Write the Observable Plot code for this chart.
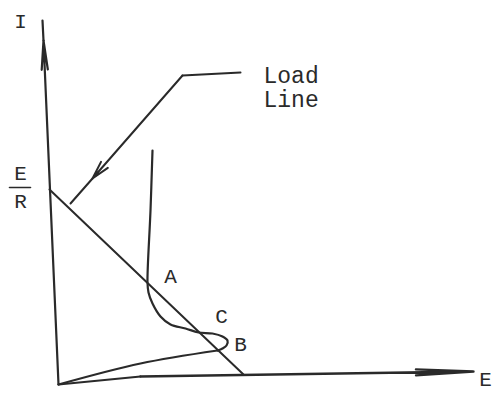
<!DOCTYPE html>
<html>
<head>
<meta charset="utf-8">
<script src="https://cdn.jsdelivr.net/npm/d3@7"></script>
<script src="https://cdn.jsdelivr.net/npm/@observablehq/plot@0.6"></script>
<style>
  html, body { margin: 0; padding: 0; background: #fff; }
  #chart { width: 497px; height: 393px; overflow: hidden; }
</style>
</head>
<body>
<div id="chart"></div>
<script>
// Device characteristic (E vs I), arbitrary units, origin at (0,0)
// upper branch (top, through A, looping round at B)
const curveE = [94, 92, 89, 90, 94, 102, 112, 127, 140, 154, 164, 169, 168, 164, 159];
const curveI = [234, 174, 102, 92, 81, 68, 60, 56, 52, 51, 48, 44, 39, 36, 34];
// lower branch (from B back to the origin)
const lowerE = [159, 82, 0];
const lowerI = [34, 21, 0];

// Load line: from E/R on the I axis to E on the E axis
const loadE = [-9, 185];
const loadI = [195, 10];

// Axes as drawn (hand-drawn, slightly tilted)
const iAxisE = [0, -15, -16];
const iAxisI = [0, 344, 364];
const eAxisE = [0, 82, 415];
const eAxisI = [0, 8, 13];

// Leader from the "Load Line" caption to the load line
const leaderE = [182, 124, 34, 12];
const leaderI = [312, 309, 206, 181];

// Labels
const labelText = ["I", "E", "R", "A", "C", "B", "E"];
const labelE = [-38, -38, -38, 112, 163, 182, 427];
const labelI = [363, 211, 183, 108, 68, 40, 5];
const captionLines = ["Load", "Line"];
const captionE = [205, 205];
const captionI = [309, 285];
const fracBarE = [-49, -28];
const fracBarI = [197, 197];

const ink = "#2a2a2a";
const font = "Liberation Mono, DejaVu Sans Mono, monospace";

const pts = (xs, ys) => xs.map((x, k) => ({e: x, i: ys[k]}));
const labels = labelText.map((t, k) => ({t, e: labelE[k], i: labelI[k]}));
const captions = captionLines.map((t, k) => ({t, e: captionE[k], i: captionI[k]}));

const chart = Plot.plot({
  width: 497,
  height: 393,
  margin: 0,
  x: {domain: [-58, 439], range: [0, 497], axis: null},
  y: {domain: [-9, 384], range: [393, 0], axis: null},
  style: {background: "#fff", fontFamily: font},
  marks: [
    // I axis
    Plot.arrow([{x1: iAxisE[0], y1: iAxisI[0], x2: iAxisE[1], y2: iAxisI[1]}],
      {x1: "x1", y1: "y1", x2: "x2", y2: "y2", stroke: ink, strokeWidth: 2.2, headLength: 20, headAngle: 12}),
    Plot.line(pts(iAxisE.slice(1), iAxisI.slice(1)), {x: "e", y: "i", stroke: ink, strokeWidth: 2.2}),
    // E axis
    Plot.line(pts(eAxisE.slice(0, 2), eAxisI.slice(0, 2)), {x: "e", y: "i", stroke: ink, strokeWidth: 2}),
    Plot.arrow([{x1: eAxisE[1], y1: eAxisI[1], x2: eAxisE[2], y2: eAxisI[2]}],
      {x1: "x1", y1: "y1", x2: "x2", y2: "y2", stroke: ink, strokeWidth: 2.4, headLength: 36, headAngle: 6}),
    // Load line
    Plot.line(pts(loadE, loadI), {x: "e", y: "i", stroke: ink, strokeWidth: 2}),
    // Characteristic curve
    Plot.line(pts(curveE, curveI), {x: "e", y: "i", stroke: ink, strokeWidth: 2.2, curve: "catmull-rom"}),
    Plot.line(pts(lowerE, lowerI), {x: "e", y: "i", stroke: ink, strokeWidth: 2.2, curve: "catmull-rom"}),
    // Leader
    Plot.line(pts(leaderE.slice(0, 2), leaderI.slice(0, 2)), {x: "e", y: "i", stroke: ink, strokeWidth: 2}),
    Plot.arrow([{x1: leaderE[1], y1: leaderI[1], x2: leaderE[2], y2: leaderI[2]}],
      {x1: "x1", y1: "y1", x2: "x2", y2: "y2", stroke: ink, strokeWidth: 2, headLength: 14, headAngle: 28}),
    Plot.line(pts(leaderE.slice(2), leaderI.slice(2)), {x: "e", y: "i", stroke: ink, strokeWidth: 2}),
    // E/R fraction bar
    Plot.line(pts(fracBarE, fracBarI), {x: "e", y: "i", stroke: ink, strokeWidth: 1.6}),
    // Labels
    Plot.text(labels, {x: "e", y: "i", text: "t", fill: ink, fontSize: 21, fontFamily: font, textAnchor: "middle", lineAnchor: "middle"}),
    Plot.text(captions, {x: "e", y: "i", text: "t", fill: ink, fontSize: 23, fontFamily: font, textAnchor: "start", lineAnchor: "middle"})
  ]
});
document.getElementById("chart").appendChild(chart);
</script>
</body>
</html>
